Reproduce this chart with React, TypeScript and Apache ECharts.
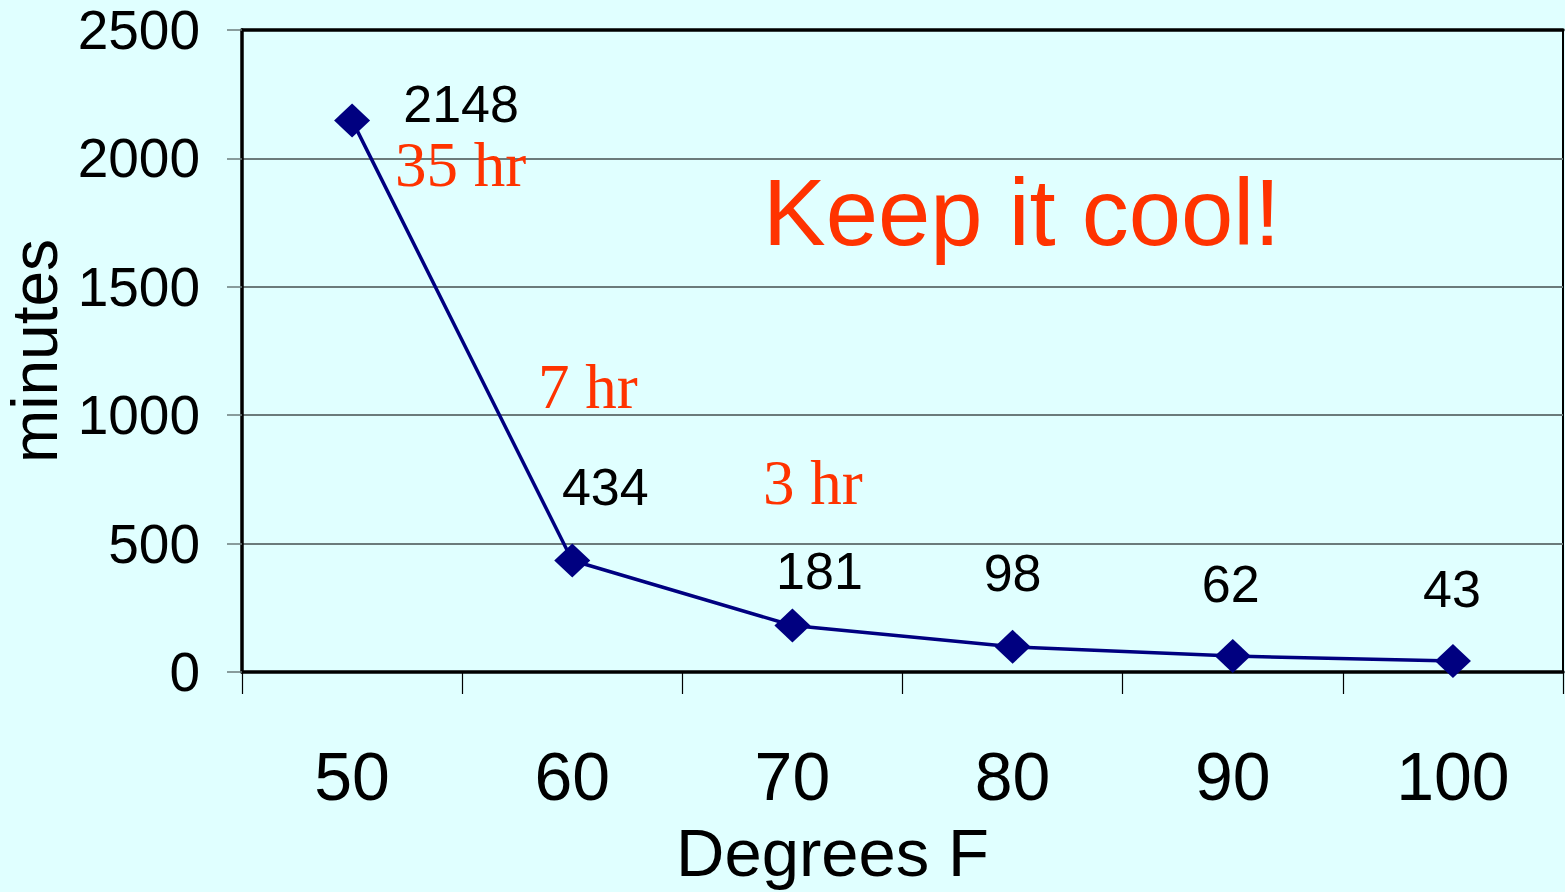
import React, { useEffect, useRef } from "react";
import * as echarts from "echarts";

// ---- data ----
const categories = ["50", "60", "70", "80", "90", "100"];
const minutes = [2148, 434, 181, 98, 62, 43];
const yMin = 0;
const yMax = 2500;
const yStep = 500;
const xTitle = "Degrees F";
const yTitle = "minutes";
const hourNotes = ["35 hr", "7 hr", "3 hr"];
const headline = "Keep it cool!";

// ---- layout (label offsets from each point, in px) ----
const labelOffsets: [number, number][] = [
  [109, -16],
  [33, -74],
  [27, -55],
  [0, -74],
  [-2, -72],
  [-1, -72],
];
const notePositions: [number, number][] = [
  [395, 165],
  [538, 387],
  [763, 483],
];

const SANS = '"Liberation Sans", Arial, sans-serif';
const SERIF = '"Liberation Serif", "Times New Roman", serif';
const RED = "#FF3300";
const NAVY = "#000080";
const GRID = "#6b7b7b";
const BG = "#E0FFFF";

export default function App() {
  const ref = useRef<HTMLDivElement>(null);
  useEffect(() => {
    if (!ref.current) return;
    const chart = echarts.init(ref.current, undefined, { renderer: "svg" });
    chart.setOption({
      animation: false,
      backgroundColor: BG,
      grid: {
        left: 242,
        right: 2,
        top: 30,
        bottom: 220,
        containLabel: false,
        outerBoundsMode: "none",
      },
      xAxis: [
        {
          type: "category",
          data: categories,
          boundaryGap: true,
          axisLine: { lineStyle: { color: "#000", width: 3.5 } },
          axisTick: { show: true, length: 22, lineStyle: { color: "#000", width: 1.2 } },
          axisLabel: { fontSize: 68, color: "#000", margin: 70, fontFamily: SANS },
          splitLine: { show: false },
          name: xTitle,
          nameLocation: "middle",
          nameGap: 151,
          nameTextStyle: {
            fontSize: 67,
            lineHeight: 58,
            color: "#000",
            fontFamily: SANS,
            padding: [0, 140, 0, 0],
          },
          z: 4,
        },
        {
          type: "category",
          position: "top",
          data: categories,
          axisLine: { show: true, onZero: false, lineStyle: { color: "#000", width: 3.5 } },
          axisTick: { show: false },
          axisLabel: { show: false },
          splitLine: { show: false },
          z: 4,
        },
      ],
      yAxis: [
        {
          type: "value",
          min: yMin,
          max: yMax,
          interval: yStep,
          axisLine: { show: true, lineStyle: { color: "#000", width: 3.5 } },
          axisTick: { show: true, length: 15, lineStyle: { color: GRID, width: 1.5 } },
          axisLabel: {
            fontSize: 55,
            color: "#000",
            margin: 42,
            fontFamily: SANS,
            formatter: (v: number) => String(v),
          },
          splitLine: { show: true, lineStyle: { color: GRID, width: 2 } },
          name: yTitle,
          nameLocation: "middle",
          nameRotate: 90,
          nameGap: 167,
          nameTextStyle: { fontSize: 64, color: "#000", fontFamily: SANS },
          z: 4,
        },
        {
          type: "value",
          position: "right",
          min: yMin,
          max: yMax,
          axisLine: { show: true, onZero: false, lineStyle: { color: "#000", width: 2 } },
          axisTick: { show: false },
          axisLabel: { show: false },
          splitLine: { show: false },
        },
      ],
      series: [
        {
          type: "line",
          data: minutes.map((v, i) => ({
            value: v,
            label: { offset: labelOffsets[i] },
          })),
          symbol: "diamond",
          symbolSize: [36, 34],
          lineStyle: { color: NAVY, width: 3.5 },
          itemStyle: { color: NAVY },
          label: {
            show: true,
            position: "inside",
            color: "#000",
            fontSize: 52,
            lineHeight: 44,
            fontFamily: SANS,
          },
          z: 5,
        },
      ],
      graphic: [
        {
          type: "text",
          x: 763,
          y: 212,
          z: 10,
          style: {
            text: headline,
            fill: RED,
            fontSize: 94,
            fontFamily: SANS,
            align: "left",
            verticalAlign: "middle",
          },
        },
        ...hourNotes.map((t, i) => ({
          type: "text",
          x: notePositions[i][0],
          y: notePositions[i][1],
          z: 10,
          style: {
            text: t,
            fill: RED,
            fontSize: 63,
            lineHeight: 52,
            fontFamily: SERIF,
            align: "left",
            verticalAlign: "middle",
          },
        })),
      ],
    });
    return () => chart.dispose();
  }, []);
  return (
    <div
      ref={ref}
      style={{ position: "fixed", left: 0, top: 0, width: 1565, height: 892, background: BG }}
    />
  );
}
